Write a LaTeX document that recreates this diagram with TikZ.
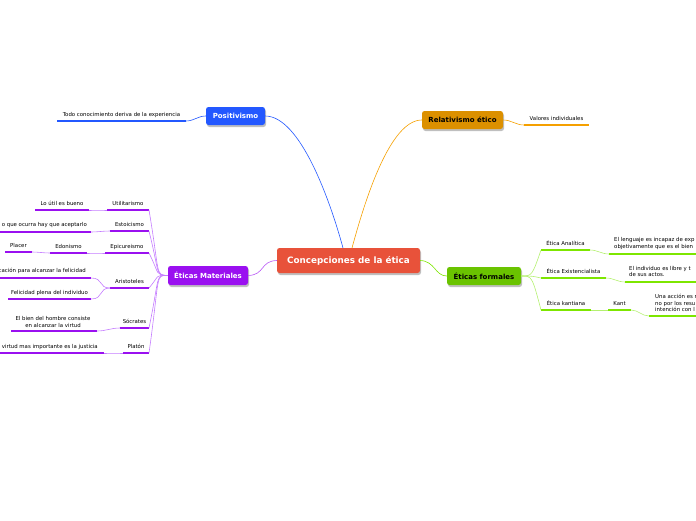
\documentclass[tikz,border=0pt]{standalone}
\usepackage{fontspec}
\setmainfont{DejaVu Sans}
\definecolor{cpur}{HTML}{9A10F0}
\definecolor{lpur}{HTML}{C47CFF}
\definecolor{cgre}{HTML}{7DE600}
\definecolor{lgre}{HTML}{B4F070}
\definecolor{cblu}{HTML}{2358FF}
\definecolor{cora}{HTML}{F5A000}
\definecolor{cred}{HTML}{E8523A}
\tikzset{x=1pt,y=-1pt,
 topic/.style={rounded corners=2.5pt,text=white,font=\bfseries\fontsize{7}{8}\selectfont,inner sep=0pt,anchor=center},
 lbl/.style={font=\fontsize{5.4}{6.4}\selectfont,inner sep=0pt,anchor=base},
 lblL/.style={font=\fontsize{5.4}{6.5}\selectfont,inner sep=0pt,anchor=base west,align=left},
 conn/.style={line width=0.6pt}}
\newcommand\leaf[6]{%
 \coordinate (#1-l) at (#2,#4); \coordinate (#1-r) at (#3,#4);
 \draw[#6,line width=1.6pt] (#1-l)--(#1-r);
 \node[lbl] (#1) at ({(#2+#3)/2},#4-5) {#5};}
\begin{document}
\begin{tikzpicture}
\useasboundingbox (0,0) rectangle (696,520);
\clip (0,0) rectangle (696,520);
% central
\fill[black!25,rounded corners=2.5pt] (278,250) rectangle (421,275);
\node[topic,fill=cred,minimum width=143pt,minimum height=25pt,font=\bfseries\fontsize{8.8}{10}\selectfont] (c) at (348.5,260.5) {Concepciones de la ética};
\fill[black!25,rounded corners=2.5pt] (207,109) rectangle (266,127);
\node[topic,fill=cblu,minimum width=59pt,minimum height=18pt] (pos) at (235.5,116) {Positivismo};
\fill[black!25,rounded corners=2.5pt] (423,113) rectangle (504,131);
\node[topic,fill=cora!90!black,minimum width=81pt,minimum height=18pt,text=black] (rel) at (462.5,120) {Relativismo ético};
\fill[black!25,rounded corners=2.5pt] (169,268) rectangle (249,287);
\node[topic,fill=cpur,minimum width=80pt,minimum height=19pt] (mat) at (208,275.5) {Éticas Materiales};
\fill[black!25,rounded corners=2.5pt] (448,269) rectangle (522,287);
\node[topic,fill=cgre!85!black,minimum width=74pt,minimum height=18pt,text=black] (for) at (484,276) {Éticas formales};
% main connectors
\draw[cblu,conn] (343,248) .. controls (330,200) and (300,116) .. (pos.east);
\draw[cora,conn] (352,248) .. controls (365,200) and (390,120) .. (rel.west);
\draw[cpur!70,conn] (c.west) .. controls (260,261) and (265,275) .. (mat.east);
\draw[cgre,conn] (c.east) .. controls (435,261) and (435,276) .. (for.west);
% positivismo
\leaf{p1}{57}{186}{121}{Todo conocimiento deriva de la experiencia}{cblu}
\draw[cblu,conn] (p1-r) to[out=0,in=180] (pos.west);
% relativismo
\leaf{r1}{524}{589}{125}{Valores individuales}{cora}
\draw[cora,conn] (rel.east) to[out=0,in=180] (r1-l);
% materiales
\leaf{m1}{107}{149}{210}{Utilitarismo}{cpur}
\leaf{m2}{110}{149}{231}{Estoicismo}{cpur}
\leaf{m3}{105}{149}{253}{Epicureismo}{cpur}
\leaf{m4}{110}{149}{288}{Aristoteles}{cpur}
\leaf{m5}{120}{149}{328}{Sócrates}{cpur}
\leaf{m6}{123}{149}{353}{Platón}{cpur}
\foreach \i in {1,...,6}{\draw[lpur,conn] (mat.west) .. controls (155,275) and (160,275) .. (m\i-r);}
\leaf{m1a}{35}{89}{210}{Lo útil es bueno}{cpur}
\draw[lpur,conn] (m1a-r) to[out=0,in=180] (m1-l);
\coordinate (m2a-l) at (0,232); \coordinate (m2a-r) at (91,232);
\draw[cpur,line width=1.6pt] (m2a-l)--(m2a-r);
\node[lbl,anchor=base east] (m2a) at (87,226) {o que ocurra hay que aceptarlo};
\draw[lpur,conn] (m2a-r) to[out=0,in=180] (m2-l);
\leaf{m3a}{50}{87}{253}{Edonismo}{cpur}
\draw[lpur,conn] (m3a-r) to[out=0,in=180] (m3-l);
\leaf{m3b}{5}{32}{252}{Placer}{cpur}
\draw[lpur,conn] (m3b-r) to[out=0,in=180] (m3a-l);
\coordinate (m4a-l) at (0,278); \coordinate (m4a-r) at (91,278);
\draw[cpur,line width=1.6pt] (m4a-l)--(m4a-r);
\node[lbl,anchor=base east] (m4a) at (86,272) {cación para alcanzar la felicidad};
\leaf{m4b}{8}{91}{299}{Felicidad plena del individuo}{cpur}
\draw[lpur,conn] (m4a-r) .. controls (104,278) and (98,288) .. (m4-l);
\draw[lpur,conn] (m4b-r) .. controls (104,299) and (98,288) .. (m4-l);
\coordinate (m5a-l) at (11,331); \coordinate (m5a-r) at (97,331);
\draw[cpur,line width=1.6pt] (m5a-l)--(m5a-r);
\node[lbl,anchor=base,align=center] (m5a) at (53,327) {El bien del hombre consiste\\ en alcanzar la virtud};
\draw[lpur,conn] (m5a-r) to[out=0,in=180] (m5-l);
\coordinate (m6a-l) at (0,353); \coordinate (m6a-r) at (104,353);
\draw[cpur,line width=1.6pt] (m6a-l)--(m6a-r);
\node[lbl,anchor=base east] (m6a) at (98,348) {virtud mas importante es la justicia};
\draw[lpur,conn] (m6a-r) to[out=0,in=180] (m6-l);
% formales
\leaf{f1}{541}{590}{250}{Ética Analítica}{cgre}
\leaf{f2}{541}{606}{278}{Ética Existencialista}{cgre}
\leaf{f3}{541}{591}{310}{Ética kantiana}{cgre}
\foreach \i in {1,2,3}{\draw[lgre,conn] (for.east) .. controls (532,276) and (532,276) .. (f\i-l);}
\coordinate (f1a-l) at (609,254); \coordinate (f1a-r) at (700,254);
\draw[cgre,line width=1.6pt] (f1a-l)--(f1a-r);
\node[lblL] (f1a) at (614,248) {El lenguaje es incapaz de exp\\objetivamente que es el bien};
\draw[lgre,conn] (f1-r) to[out=0,in=180] (f1a-l);
\coordinate (f2a-l) at (625,282); \coordinate (f2a-r) at (700,282);
\draw[cgre,line width=1.6pt] (f2a-l)--(f2a-r);
\node[lblL] (f2a) at (629,276.5) {El individuo es libre y t\\de sus actos.};
\draw[lgre,conn] (f2-r) to[out=0,in=180] (f2a-l);
\leaf{f3a}{608}{631}{310}{Kant}{cgre}
\draw[lgre,conn] (f3-r) -- (f3a-l);
\coordinate (f3b-l) at (649,316); \coordinate (f3b-r) at (700,316);
\draw[cgre,line width=1.6pt] (f3b-l)--(f3b-r);
\node[lblL] (f3b) at (655,311.5) {Una acción es m\\no por los resu\\intención con l};
\draw[lgre,conn] (f3a-r) to[out=0,in=180] (f3b-l);
\end{tikzpicture}
\end{document}
